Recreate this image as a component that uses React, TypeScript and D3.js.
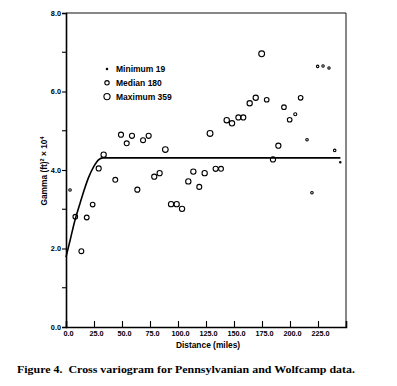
import React, { useEffect, useRef } from 'react';
import * as d3 from 'd3';

// lag distance (miles), cross-variogram value (x 10^4) and number of pairs per lag
const distance = [3.6, 8.3, 13.7, 18.5, 23.8, 29.2, 33.6, 44.0, 49.1, 54.2, 58.9, 63.7, 68.8, 73.8, 78.8, 83.6,
	88.7, 93.8, 98.8, 103.6, 109.2, 113.7, 119.0, 123.8, 128.6, 133.6, 138.4, 143.5, 148.2, 153.9, 158.3, 164.0,
	169.4, 174.7, 179.2, 184.8, 189.6, 194.6, 199.7, 204.7, 209.5, 215.2, 219.6, 224.7, 229.5, 234.8, 239.9, 244.9];
const gamma = [3.49, 2.81, 1.93, 2.79, 3.12, 4.04, 4.39, 3.75, 4.90, 4.68, 4.87, 3.50, 4.76, 4.87, 3.83, 3.92,
	4.52, 3.13, 3.13, 3.01, 3.71, 3.96, 3.57, 3.92, 4.93, 4.03, 4.03, 5.27, 5.19, 5.34, 5.34, 5.70,
	5.84, 6.96, 5.79, 4.27, 4.62, 5.60, 5.28, 5.42, 5.84, 4.77, 3.42, 6.64, 6.65, 6.60, 4.50, 4.20];
const pairs = [60, 200, 220, 210, 200, 240, 260, 220, 240, 230, 240, 240, 230, 240, 250, 250,
	300, 260, 260, 260, 260, 260, 230, 260, 320, 240, 220, 270, 270, 240, 240, 260,
	260, 320, 200, 250, 250, 200, 200, 90, 200, 60, 60, 55, 55, 50, 60, 19];

// fitted model line
const curveDistance = [0, 4, 8, 12, 16, 20, 25, 29, 33, 245];
const curveGamma = [1.78, 2.25, 2.72, 3.1, 3.47, 3.8, 4.1, 4.26, 4.31, 4.31];

const xTicks = [0, 25, 50, 75, 100, 125, 150, 175, 200, 225];
const yTicks = [0, 2, 4, 6, 8];
const yMinorTicks = [1, 3, 5, 7];

const legendLabels = ['Minimum 19', 'Median 180', 'Maximum 359'];
const legendPairs = [19, 180, 359];

const W = 397;
const H = 386;
const sans = '"Liberation Sans", Arial, sans-serif';

export default function App () {
	const ref = useRef<SVGSVGElement>(null);

	useEffect(() => {
		const svg = d3.select(ref.current);
		svg.selectAll('*').remove();

		const x = d3.scaleLinear().domain([0, 250]).range([66, 346]);
		const y = d3.scaleLinear().domain([0, 8]).range([327, 13]);
		const r = d3.scaleSqrt().domain([0, 359]).range([0, 3.1]);

		svg.append('rect').attr('width', W).attr('height', H).attr('fill', '#fff');

		// frame
		svg.append('line').attr('x1', 66).attr('x2', 346).attr('y1', 13).attr('y2', 13)
			.attr('stroke', '#111').attr('stroke-width', 1);
		svg.append('line').attr('x1', 346).attr('x2', 346).attr('y1', 13).attr('y2', 327)
			.attr('stroke', '#111').attr('stroke-width', 1);

		// x axis, ticks point inward
		const xAxis = svg.append('g').attr('transform', 'translate(0,327)')
			.call(d3.axisBottom(x).tickValues(xTicks).tickSize(-6).tickPadding(4)
				.tickFormat(d => d3.format('.1f')(d as number)));
		xAxis.select('.domain').attr('stroke', '#000').attr('stroke-width', 1.6);
		xAxis.selectAll('.tick line').attr('stroke', '#000').attr('stroke-width', 1.1);
		xAxis.selectAll('.tick text').attr('font-family', sans).attr('font-weight', 'bold')
			.attr('font-size', 7.3).attr('fill', '#000').attr('dx', 2);

		// y axis
		const yAxis = svg.append('g').attr('transform', 'translate(66,0)')
			.call(d3.axisLeft(y).tickValues(yTicks).tickSize(4).tickPadding(1)
				.tickFormat(d => d3.format('.1f')(d as number)));
		yAxis.select('.domain').attr('stroke', '#000').attr('stroke-width', 1.6);
		yAxis.selectAll('.tick line').attr('stroke', '#000').attr('stroke-width', 1.1);
		yAxis.selectAll('.tick text').attr('font-family', sans).attr('font-weight', 'bold')
			.attr('font-size', 7.3).attr('fill', '#000');
		svg.append('g').attr('transform', 'translate(66,0)')
			.selectAll('line').data(yMinorTicks).enter().append('line')
			.attr('x1', -4).attr('x2', 0)
			.attr('y1', d => y(d)).attr('y2', d => y(d))
			.attr('stroke', '#000').attr('stroke-width', 1.1);

		// model curve
		const line = d3.line<number>()
			.x((d, i) => x(curveDistance[i]))
			.y(d => y(d))
			.curve(d3.curveMonotoneX);
		svg.append('path').datum(curveGamma).attr('d', line)
			.attr('fill', 'none').attr('stroke', '#000').attr('stroke-width', 1.6);

		// points
		svg.append('g').selectAll('circle').data(distance).enter().append('circle')
			.attr('cx', d => x(d))
			.attr('cy', (d, i) => y(gamma[i]))
			.attr('r', (d, i) => r(pairs[i]))
			.attr('fill', 'none').attr('stroke', '#000').attr('stroke-width', 1.1);

		// legend
		const legend = svg.append('g').attr('transform', 'translate(107,69)');
		const item = legend.selectAll('g').data(legendLabels).enter().append('g')
			.attr('transform', (d, i) => 'translate(0,' + (i * 13.8) + ')');
		item.append('circle')
			.attr('r', (d, i) => r(legendPairs[i]))
			.attr('fill', (d, i) => i === 0 ? '#000' : 'none')
			.attr('stroke', '#000').attr('stroke-width', 1.1);
		item.append('text').attr('x', 9).attr('dy', '0.35em')
			.attr('font-family', sans).attr('font-weight', 'bold').attr('font-size', 8.5)
			.text(d => d);

		// axis titles
		svg.append('text').attr('x', 208).attr('y', 348).attr('text-anchor', 'middle')
			.attr('font-family', sans).attr('font-weight', 'bold').attr('font-size', 8.4)
			.text('Distance (miles)');

		const yl = svg.append('text').attr('transform', 'translate(47,171) rotate(-90)')
			.attr('text-anchor', 'middle')
			.attr('font-family', sans).attr('font-weight', 'bold').attr('font-size', 8.4);
		yl.append('tspan').text('Gamma (ft)');
		yl.append('tspan').attr('font-size', 5.5).attr('dy', -3.5).text('2');
		yl.append('tspan').attr('dy', 3.5).text(' \u00d7 10');
		yl.append('tspan').attr('font-size', 5.5).attr('dy', -3.5).text('4');

		// caption
		svg.append('text').attr('x', 17).attr('y', 373)
			.attr('font-family', '"Liberation Serif", "Times New Roman", serif')
			.attr('font-weight', 'bold').attr('font-size', 11)
			.style('white-space', 'pre')
			.attr('textLength', 338).attr('lengthAdjust', 'spacingAndGlyphs')
			.text('Figure 4.  Cross variogram for Pennsylvanian and Wolfcamp data.');
	}, []);

	return (
		<svg ref={ref} width={W} height={H}
			style={{ position: 'absolute', left: 0, top: 0, display: 'block' }} />
	);
}
